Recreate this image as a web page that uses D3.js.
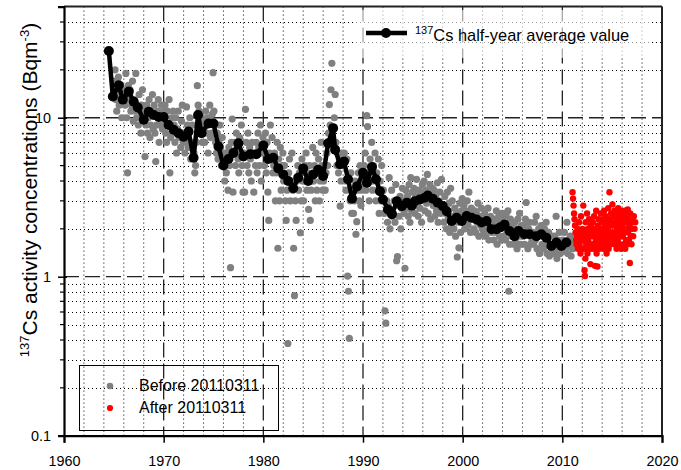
<!DOCTYPE html>
<html><head><meta charset="utf-8">
<script src="https://cdn.jsdelivr.net/npm/d3@7"></script>
<style>body{margin:0;background:#fff} svg{display:block;font-family:"Liberation Sans",Arial,sans-serif}
.tk text{font-size:14.4px;font-family:"Liberation Sans",Arial,sans-serif;fill:#000}</style>
</head><body><svg id="c" width="681" height="470"></svg>
<script>
// half-year average values
const avgYears = [1964.5,1964.9,1965.5,1965.9,1966.5,1967.0,1967.4,1968.0,1968.5,1969.0,1969.5,1970.0,1970.5,1971.0,1971.5,1972.0,1972.5,1973.0,1973.45,1973.8,1974.5,1975.0,1975.5,1976.0,1976.5,1977.0,1977.5,1978.0,1978.7,1979.3,1980.0,1980.5,1981.0,1981.5,1982.0,1982.5,1983.0,1983.5,1984.0,1984.5,1985.0,1985.5,1986.0,1986.5,1987.0,1987.2,1987.7,1988.1,1988.5,1988.9,1989.4,1990.0,1990.4,1990.9,1991.3,1991.7,1992.0,1992.5,1992.9,1993.4,1993.9,1994.4,1994.9,1995.2,1995.7,1996.2,1996.5,1997.0,1997.5,1998.0,1998.4,1998.9,1999.4,1999.9,2000.4,2000.9,2001.4,2001.9,2002.4,2002.9,2003.4,2003.8,2004.2,2004.7,2005.2,2005.6,2006.2,2006.7,2007.4,2007.9,2008.4,2008.9,2009.4,2009.9,2010.4];
const avgValues = [26.3,13.6,16.0,13.0,14.6,12.6,11.6,9.7,10.9,10.4,10.1,10.1,9.0,8.4,8.0,7.6,8.2,5.6,10.4,8.0,9.2,9.2,6.6,5.0,5.5,6.0,6.9,5.7,5.9,5.9,6.7,5.5,5.6,4.8,4.4,4.0,3.6,4.2,4.8,4.0,4.4,4.7,4.3,6.9,8.6,6.3,5.1,5.3,4.1,3.1,3.7,4.5,3.9,4.9,4.1,3.45,3.06,2.65,2.47,2.98,2.78,2.92,2.8,2.98,3.06,3.14,3.24,3.09,2.92,2.78,2.58,2.24,2.35,2.24,2.41,2.35,2.29,2.19,2.24,1.99,1.99,2.05,2.13,1.94,1.80,1.94,1.85,1.85,1.80,1.85,1.76,1.56,1.64,1.56,1.64];

// individual samples: [periodStart, periodEnd, values]
const beforeRows = [
 [1965,1966,[17,20,13,11,15,18,12,14,16,10,13,15]],
 [1966,1967,[14,12,19,10,4.5,16,13,15,11,12,17,9.5]],
 [1967,1968,[13,11,19,10,12,9,14,11,8,12,15,10]],
 [1968,1969,[11,5.7,9,12,8,10,13,7.5,9,11,14,8.5]],
 [1969,1970,[12,8,5.3,9,11,13,7,10,9,12,8.5,11]],
 [1970,1971,[10,12,8,7,11,9,13,4.5,7.5,10,8,11]],
 [1971,1972,[9,7,10,6,8.5,11,7.5,8,6.5,9.5,12,7]],
 [1972,1973,[8,6,7,11.7,9,6.5,8,10,5.5,7,9,6]],
 [1973,1974,[6,4.5,5,7,15.9,12,11,9,8,10,7,9.5]],
 [1974,1975,[9,7,11,8,10,6,9.5,12,7.5,8,10.5,19.2]],
 [1975,1976,[11,9,7,6,8,5.5,7,9,6.5,5,7.5,6]],
 [1976,1977,[5,4,6,4.5,5.5,3.5,6.5,5,1.14,7,9.8,3.4]],
 [1977,1978,[6,7,5,8,6.5,5.5,4.5,7.5,6,9,5,3.4]],
 [1978,1979,[6,3.4,11.3,7,5,8,4.5,6.5,5.5,4,7,6]],
 [1979,1980,[3.4,6,5,7,4.5,8,6.5,5,9,4,6,7.5]],
 [1980,1981,[6.8,5,8,4.5,7,3.4,2.26,6,9,5.5,7.5,4.5]],
 [1981,1982,[5,6,3.0,4.5,7,1.51,5.5,3.0,6.5,3.5,5,6]],
 [1982,1983,[4,5,3,2.26,3.5,0.38,4.5,5.5,3.0,4,6,3.5]],
 [1983,1984,[1.51,0.76,3,2.26,4,5,3.5,4.5,1.89,3,5.5,4]],
 [1984,1985,[3.0,4,5,6,3.5,4.5,2.65,5,2.26,3.5,4,6.5]],
 [1985,1986,[4,5,3.0,6,3.5,4.5,5.5,3,4,7,5,3.5]],
 [1986,1987,[4,5,3.5,4.5,6,5,8,12.1,9,15,22,7]],
 [1987,1988,[8.6,10,14,7,5,6,4.5,5.5,2.78,4,6,5]],
 [1988,1989,[5,6,4,3.5,5.5,1.01,0.81,0.41,3,4.5,2.5,3.5]],
 [1989,1990,[2.5,3,4,1.85,2.22,3.5,4.5,3,5,2.8,3.5,4]],
 [1990,1991,[4,5,6,3.5,10.3,8.8,4.5,3,5.5,4,7,3.5]],
 [1991,1992,[5,4,6,3,4.5,3.5,5.5,2.5,4,3,5,3.5]],
 [1992,1993,[3.5,2.5,0.61,0.51,3,2.2,2.8,4.2,2,2.6,3.5,2.4]],
 [1993,1994,[2.5,3,2.2,3.8,1.26,1.34,2.8,2.4,3.2,2,2.7,3.6]],
 [1994,1995,[3,2.5,1.13,3.5,2.7,3.2,2.4,3.8,2.2,4.2,2.6,3.4]],
 [1995,1996,[3,3.6,2.5,3.2,4.1,2.8,2.4,3.5,2.7,3.3,2.2,3.8]],
 [1996,1997,[3.2,4,2.6,3.5,2.9,4.4,2.5,3.3,3.8,2.3,3.1,3.6]],
 [1997,1998,[2.8,3.5,2.4,3.2,2.6,3.9,2.2,3,3.4,2.5,4.1,2.7]],
 [1998,1999,[2.8,2.2,3.2,2.5,2,3.4,2.3,2.9,1.9,3.6,2.1,3.0]],
 [1999,2000,[2.4,2,2.7,1.8,2.5,1.33,2.2,1.52,2.9,1.9,2.6,3.1]],
 [2000,2001,[2.4,2.8,2,2.6,2.2,3.0,2.1,3.4,2.5,1.9,2.7,2.3]],
 [2001,2002,[2.3,2,2.6,1.9,2.5,2.2,2.9,1.8,2.4,2.1,2.7,2]],
 [2002,2003,[2.2,1.9,2.5,1.8,2.3,2,2.7,1.7,2.1,2.4,1.9,2.2]],
 [2003,2004,[2,1.7,2.3,1.9,2.6,1.6,2.1,2.4,1.8,2.2,1.7,2.5]],
 [2004,2005,[2.1,1.8,2.4,1.7,2.5,1.9,2.6,0.81,1.6,2.3,1.8,2.1]],
 [2005,2006,[1.9,1.6,2.2,1.7,2.0,1.5,2.3,1.8,2.5,1.6,2.1,1.9]],
 [2006,2007,[1.8,2.1,1.6,2.3,2.93,1.9,1.5,2.0,2.2,1.6,1.9,1.7]],
 [2007,2008,[1.9,1.6,2.2,1.7,2.4,1.5,1.8,2.0,1.4,1.9,2.1,1.6]],
 [2008,2009,[1.8,1.5,2.0,1.6,2.2,1.4,1.7,1.9,1.35,1.6,1.8,1.5]],
 [2009,2010,[1.6,1.4,1.8,1.5,2.4,1.3,1.7,1.55,1.9,1.4,1.6,1.5]],
 [2010,2011,[1.7,1.45,1.9,1.5,1.6,2.2,1.4,1.7,1.55,1.8,1.35,1.6]],
 [2011,2011.2,[1.5,1.7]]
];
const afterRows = [
 [2011.0,2012,[3.4,3.1,2.8,2.5,2.3,2.1,1.9,1.7,1.6,1.8,2.0,1.5,1.7,2.2,1.6,1.9,1.4,2.4,1.8,1.5]],
 [2012,2013,[2.0,1.7,2.8,1.5,1.9,1.1,1.01,1.3,2.2,1.6,1.8,2.5,1.4,2.0,1.7,1.5,2.3,1.9,1.6,1.2,2.1,1.8,1.5,2.0]],
 [2013,2014,[1.9,2.2,1.6,1.8,2.4,1.5,1.17,2.0,1.7,2.6,1.4,1.9,1.16,2.1,1.6,2.3,1.8,1.5,2.0,1.7,2.5,1.6,1.9,2.2]],
 [2014,2015,[2.0,1.7,2.3,1.5,2.6,1.8,2.1,1.6,2.4,1.9,1.4,2.2,1.7,2.0,2.7,1.5,2.3,3.4,1.8,2.1,1.6,2.5,1.9,2.2]],
 [2015,2016,[2.85,2.1,1.7,2.4,1.9,2.6,1.6,2.2,1.8,2.5,1.5,2.0,2.3,1.7,2.7,1.9,2.1,1.6,2.4,1.8,2.2,1.5,2.6,2.0]],
 [2016,2017,[2.1,1.8,2.5,1.6,2.3,1.9,2.6,1.5,2.2,1.7,2.4,2.0,1.6,2.65,1.9,2.3,1.7,2.1,1.22,2.5,1.8,2.2,1.6,2.0]],
 [2017,2017.35,[2.2,1.8,2.4,2.0,2.2]]
];
const xTicks = [1960,1970,1980,1990,2000,2010,2020];
const yTickLabels = [0.1,1,10];
const legendLabels = ["Cs half-year average value","Before 20110311","After 20110311"];

function expand(rows){
  const out=[];
  rows.forEach(([s,e,vals])=>vals.forEach((v,i)=>out.push({t:s+(e-s)*(i+0.5)/vals.length,v})));
  return out;
}
const before = expand(beforeRows), after = expand(afterRows);

const svg = d3.select("#c");
const L=64,R=662,T=6.6,B=435.7;
const x = d3.scaleLinear().domain([1960,2020]).range([L,R]);
const y = d3.scaleLog().domain([0.1,50]).range([B,T]);

// grid
const g = svg.append("g");
const minorX = d3.range(1962,2020,2).filter(d=>d%10!==0);
g.selectAll(".mx").data(minorX).join("line").attr("x1",d=>x(d)).attr("x2",d=>x(d)).attr("y1",T).attr("y2",B)
 .attr("stroke","#000").attr("stroke-width",1).attr("stroke-dasharray","1,3");
const minorY = [0.2,0.3,0.4,0.5,0.6,0.7,0.8,0.9,2,3,4,5,6,7,8,9,20,30,40];
g.selectAll(".my").data(minorY).join("line").attr("x1",L).attr("x2",R).attr("y1",d=>Math.round(y(d))+0.5).attr("y2",d=>Math.round(y(d))+0.5)
 .attr("stroke","#000").attr("stroke-width",1).attr("stroke-dasharray","1,3");
g.selectAll(".Mx").data(xTicks.slice(1,-1)).join("line").attr("x1",d=>x(d)).attr("x2",d=>x(d)).attr("y1",T).attr("y2",B)
 .attr("stroke","#222").attr("stroke-width",1.3).attr("stroke-dasharray","15,6");
g.selectAll(".My").data([1,10]).join("line").attr("x1",L).attr("x2",R).attr("y1",d=>y(d)).attr("y2",d=>y(d))
 .attr("stroke","#222").attr("stroke-width",1.3).attr("stroke-dasharray","15,6");

// points
svg.append("g").selectAll("circle").data(before).join("circle")
 .attr("cx",d=>x(d.t)).attr("cy",d=>y(d.v)).attr("r",3.6).attr("fill","#808080");
svg.append("g").selectAll("circle").data(after).join("circle")
 .attr("cx",d=>x(d.t)).attr("cy",d=>y(d.v)).attr("r",3.2).attr("fill","#ff0000");

// average line
const avg = avgYears.map((t,i)=>({t,v:avgValues[i]}));
svg.append("path").datum(avg).attr("d",d3.line().x(d=>x(d.t)).y(d=>y(d.v)))
 .attr("fill","none").attr("stroke","#000").attr("stroke-width",4.5).attr("stroke-linejoin","round");
svg.append("g").selectAll("circle").data(avg).join("circle")
 .attr("cx",d=>x(d.t)).attr("cy",d=>y(d.v)).attr("r",5).attr("fill","#000");

// frame
svg.append("line").attr("x1",L).attr("x2",R).attr("y1",T).attr("y2",T).attr("stroke","#222").attr("stroke-width",2);
svg.append("line").attr("x1",R).attr("x2",R).attr("y1",T).attr("y2",B).attr("stroke","#222").attr("stroke-width",2);

// axes
const xa = svg.append("g").attr("class","tk").attr("transform",`translate(0,${B})`)
 .call(d3.axisBottom(x).tickValues(xTicks).tickFormat(d3.format("d")).tickSize(7).tickPadding(13));
xa.select(".domain").attr("stroke-width",2.2);
xa.selectAll(".tick line").attr("stroke-width",1.5);

const ya = svg.append("g").attr("class","tk").attr("transform",`translate(${L},0)`)
 .call(d3.axisLeft(y).tickValues(yTickLabels).tickFormat(d=>d).tickSize(6).tickPadding(7));
ya.select(".domain").attr("stroke-width",2.2);
ya.selectAll(".tick line").attr("stroke-width",1.5).attr("x2",-6).attr("x1",3);
// minor y ticks
svg.append("g").selectAll("line").data(minorY).join("line")
 .attr("x1",L-4).attr("x2",L).attr("y1",d=>y(d)).attr("y2",d=>y(d)).attr("stroke","#000").attr("stroke-width",1.2);

// y label
const yl = svg.append("text").attr("transform","translate(37,190) rotate(-90)")
 .attr("text-anchor","middle").style("font-size","21px").attr("fill","#000");
yl.append("tspan").style("font-size","13px").attr("dy",-8).text("137");
yl.append("tspan").attr("dy",8).text("Cs activity concentrations (Bqm");
yl.append("tspan").style("font-size","13px").attr("dy",-8).text("-3");
yl.append("tspan").attr("dy",8).text(")");

// top legend
svg.append("rect").attr("x",355).attr("y",10).attr("width",297).attr("height",48).attr("fill","#fff").attr("opacity",0.6);
svg.append("line").attr("x1",366).attr("x2",407).attr("y1",33).attr("y2",33).attr("stroke","#000").attr("stroke-width",4.5);
svg.append("circle").attr("cx",386).attr("cy",33).attr("r",5).attr("fill","#000");
const lt = svg.append("text").attr("x",415).attr("y",41).style("font-size","16.4px");
lt.append("tspan").style("font-size","11px").attr("dy",-7).text("137");
lt.append("tspan").attr("dy",7).text(legendLabels[0]);

// bottom legend
svg.append("rect").attr("x",79.5).attr("y",365.5).attr("width",199).attr("height",65).attr("fill","none").attr("stroke","#000").attr("stroke-width",1);
svg.append("circle").attr("cx",110).attr("cy",386).attr("r",3.3).attr("fill","#808080");
svg.append("circle").attr("cx",110).attr("cy",408).attr("r",3.1).attr("fill","#ff0000");
svg.append("text").attr("x",139).attr("y",391).style("font-size","16px").text(legendLabels[1]);
svg.append("text").attr("x",139).attr("y",413).style("font-size","16px").text(legendLabels[2]);
</script></body></html>
